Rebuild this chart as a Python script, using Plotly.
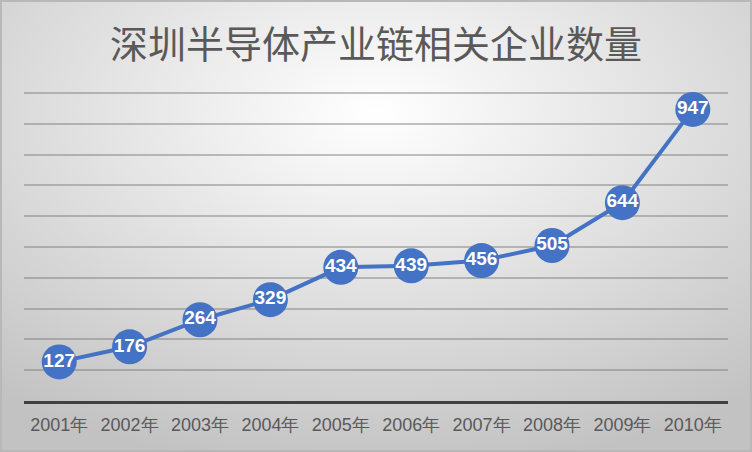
import base64
import plotly.graph_objects as go

title = "深圳半导体产业链相关企业数量"
years = ["2001年", "2002年", "2003年", "2004年", "2005年", "2006年", "2007年", "2008年", "2009年", "2010年"]
counts = [127, 176, 264, 329, 434, 439, 456, 505, 644, 947]

W, H = 752, 452
ml, mr, mt, mb = 24, 24, 90, 51
pw, ph = W - ml - mr, H - mt - mb

svg = (
    f"<svg xmlns='http://www.w3.org/2000/svg' width='{W}' height='{H}'>"
    "<defs><radialGradient id='g' cx='50%' cy='25%' r='80%'>"
    "<stop offset='0' stop-color='#ffffff'/>"
    "<stop offset='1' stop-color='#c2c2c2'/>"
    "</radialGradient></defs>"
    f"<rect width='{W}' height='{H}' fill='url(#g)'/>"
    f"<rect x='1' y='1' width='{W-2}' height='{H-2}' fill='none' stroke='#b8b8b8' stroke-width='2'/>"
    "</svg>"
)
src = "data:image/svg+xml;base64," + base64.b64encode(svg.encode()).decode()

fig = go.Figure()
fig.add_trace(go.Scatter(
    x=years, y=counts,
    mode="lines+markers+text",
    line=dict(color="#4472C4", width=4),
    marker=dict(size=35, color="#4472C4"),
    text=[str(v) for v in counts],
    textposition="middle center",
    textfont=dict(color="white", size=19, family="Liberation Sans, Arial", weight="bold"),
    hoverinfo="skip",
    cliponaxis=False,
))

fig.update_layout(
    width=W, height=H,
    margin=dict(l=ml, r=mr, t=mt, b=mb),
    paper_bgcolor="#d0d0d0",
    plot_bgcolor="rgba(0,0,0,0)",
    showlegend=False,
    title=dict(text=title, x=0.5, xref="paper", xanchor="center", y=1 - 45 / H, yref="container", yanchor="middle",
               font=dict(size=38, color="#595959", family="Noto Sans CJK SC")),
    images=[dict(source=src, xref="paper", yref="paper",
                 x=-ml / pw, y=1 + mt / ph, sizex=W / pw, sizey=H / ph,
                 xanchor="left", yanchor="top", sizing="stretch", layer="below")],
    xaxis=dict(type="category", range=[-0.5, 9.5], showline=True, linecolor="#404040", linewidth=3,
               showgrid=False, ticks="", tickfont=dict(size=18, color="#595959", family="Liberation Sans, Arial"),
               ticklabelstandoff=5, fixedrange=True),
    yaxis=dict(range=[0, 1010], dtick=100, showticklabels=False, showgrid=True,
               gridcolor="rgba(120,120,120,0.45)", gridwidth=2, zeroline=False, showline=False, fixedrange=True),
)

fig.write_html("out.html", config={"displayModeBar": False},
               post_script="document.body.style.margin='0';document.body.style.overflow='hidden';")
